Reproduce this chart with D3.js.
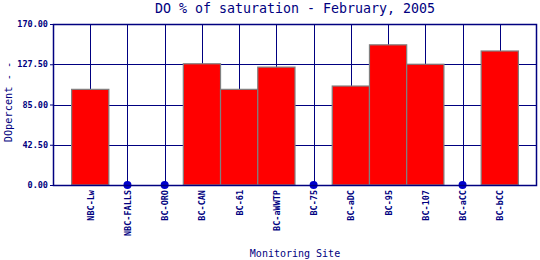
<!DOCTYPE html>
<html>
<head>
<meta charset="utf-8">
<script src="https://cdnjs.cloudflare.com/ajax/libs/d3/7.8.5/d3.min.js"></script>
<style>
  body { margin: 0; background: #fff; }
  text { font-family: "DejaVu Sans Mono", "Liberation Mono", monospace; fill: #000080; }
</style>
</head>
<body>
<div id="chart"></div>
<script>
var sites = ["NBC-Lw", "NBC-FALLS", "BC-ORO", "BC-CAN", "BC-61", "BC-aWWTP",
             "BC-75", "BC-aDC", "BC-95", "BC-107", "BC-aCC", "BC-bCC"];
var doPercent = [101, 0, 0, 128, 101, 124.5, 0, 104.5, 148, 127.5, 0, 141.5];
var yTicks = [0, 42.5, 85, 127.5, 170];

var width = 540, height = 260;
var margin = {top: 24, right: 3, bottom: 75, left: 53};

var svg = d3.select("#chart").append("svg")
  .attr("width", width).attr("height", height);

var x = d3.scalePoint()
  .domain(sites)
  .range([margin.left, width - margin.right])
  .padding(1);
var step = x.step();

var y = d3.scaleLinear()
  .domain([0, 170])
  .range([height - margin.bottom, margin.top]);

var data = sites.map(function(s, i){ return {site: s, value: doPercent[i]}; });

// grid
var grid = svg.append("g").attr("stroke", "#000080").attr("stroke-width", 1);
grid.selectAll(".hg").data(yTicks).enter().append("line")
  .attr("x1", margin.left).attr("x2", width - margin.right)
  .attr("y1", function(d){ return Math.round(y(d)) + 0.5; })
  .attr("y2", function(d){ return Math.round(y(d)) + 0.5; });
grid.selectAll(".vg").data(sites).enter().append("line")
  .attr("x1", function(d){ return Math.round(x(d)) + 0.5; })
  .attr("x2", function(d){ return Math.round(x(d)) + 0.5; })
  .attr("y1", margin.top).attr("y2", y(0));

// bars
svg.append("g").selectAll("rect")
  .data(data.filter(function(d){ return d.value > 0; })).enter().append("rect")
  .attr("x", function(d){ return x(d.site) - step / 2; })
  .attr("width", step)
  .attr("y", function(d){ return y(d.value); })
  .attr("height", function(d){ return y(0) - y(d.value); })
  .attr("fill", "#ff0000")
  .attr("stroke", "#808080")
  .attr("stroke-width", 1.2);

// zero markers
svg.append("g").selectAll("circle")
  .data(data.filter(function(d){ return d.value === 0; })).enter().append("circle")
  .attr("cx", function(d){ return x(d.site); })
  .attr("cy", function(d){ return y(d.value); })
  .attr("r", 4)
  .attr("fill", "#0000cc");

// frame
svg.append("rect")
  .attr("x", margin.left + 0.5).attr("y", margin.top + 0.5)
  .attr("width", width - margin.right - margin.left - 1)
  .attr("height", y(0) - margin.top)
  .attr("fill", "none").attr("stroke", "#000080").attr("stroke-width", 1.5);

// y axis
var yAxis = svg.append("g")
  .attr("transform", "translate(" + margin.left + ",0)")
  .call(d3.axisLeft(y).tickValues(yTicks).tickFormat(d3.format(".2f")).tickSize(3).tickPadding(2));
yAxis.select(".domain").remove();
yAxis.selectAll("line").attr("stroke", "#000080");
yAxis.selectAll("text").style("font-size", "8.5px").style("font-weight", "bold").attr("fill", "#000080");

// x axis labels
var xAxis = svg.append("g")
  .attr("transform", "translate(0," + y(0) + ")")
  .call(d3.axisBottom(x).tickSize(0).tickPadding(0));
xAxis.select(".domain").remove();
xAxis.selectAll("text")
  .attr("transform", "rotate(-90)")
  .attr("x", -5).attr("y", 0).attr("dy", "0.35em")
  .style("text-anchor", "end")
  .style("font-size", "8.5px").style("font-weight", "bold")
  .attr("fill", "#000080");

// titles
svg.append("text")
  .attr("x", (margin.left + width - margin.right) / 2).attr("y", 13)
  .attr("text-anchor", "middle")
  .style("font-size", "13.3px")
  .text("DO % of saturation - February, 2005");

svg.append("text")
  .attr("x", (margin.left + width - margin.right) / 2).attr("y", 257)
  .attr("text-anchor", "middle")
  .style("font-size", "10px")
  .text("Monitoring Site");

svg.append("text")
  .attr("transform", "translate(12,102) rotate(-90)")
  .attr("text-anchor", "middle")
  .style("font-size", "10.3px")
  .text("DOpercent - -");
</script>
</body>
</html>
